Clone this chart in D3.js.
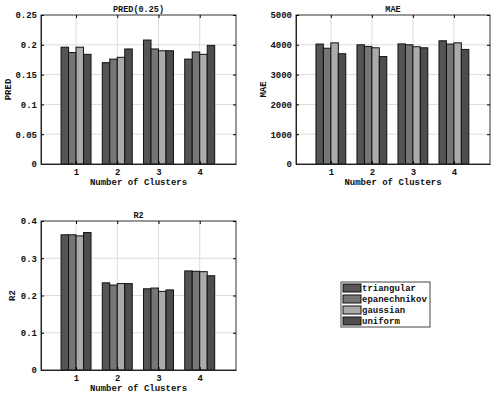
<!DOCTYPE html>
<html>
<head>
<meta charset="utf-8">
<script src="https://cdn.jsdelivr.net/npm/d3@7"></script>
<style>
  html, body { margin: 0; padding: 0; background: #fff; }
  svg text { font-family: "Liberation Mono", "DejaVu Sans Mono", monospace; font-weight: bold; fill: #111; }
</style>
</head>
<body>
<svg id="chart" width="491" height="394"></svg>
<script>
// Cluster counts on the x axis
const clusters = [1, 2, 3, 4];
// Kernel names (series)
const kernels = ["triangular", "epanechnikov", "gaussian", "uniform"];
const kernelColors = ["#555555", "#767676", "#ababab", "#4d4d4d"];

// PRED(0.25) per kernel, one value per cluster count
const predTriangular   = [0.196, 0.170, 0.208, 0.176];
const predEpanechnikov = [0.187, 0.176, 0.193, 0.188];
const predGaussian     = [0.196, 0.179, 0.190, 0.184];
const predUniform      = [0.184, 0.193, 0.190, 0.199];

// MAE per kernel
const maeTriangular   = [4025, 4000, 4030, 4135];
const maeEpanechnikov = [3885, 3945, 4000, 4025];
const maeGaussian     = [4065, 3900, 3935, 4065];
const maeUniform      = [3700, 3605, 3900, 3845];

// R2 per kernel
const r2Triangular   = [0.363, 0.234, 0.218, 0.266];
const r2Epanechnikov = [0.363, 0.228, 0.220, 0.265];
const r2Gaussian     = [0.360, 0.232, 0.211, 0.264];
const r2Uniform      = [0.369, 0.232, 0.215, 0.253];

// Y tick labels
const predTicks = [0, 0.05, 0.1, 0.15, 0.2, 0.25];
const predTickLabels = ["0", "0.05", "0.1", "0.15", "0.2", "0.25"];
const maeTicks = [0, 1000, 2000, 3000, 4000, 5000];
const maeTickLabels = ["0", "1000", "2000", "3000", "4000", "5000"];
const r2Ticks = [0, 0.1, 0.2, 0.3, 0.4];
const r2TickLabels = ["0", "0.1", "0.2", "0.3", "0.4"];

const svg = d3.select("#chart");

function panel(opt) {
  const { x0, x1, y0, y1, title, ylabel, series, yMax, ticks, tickLabels } = opt;
  const g = svg.append("g");
  const x = d3.scaleLinear().domain([0.15, 4.88]).range([x0, x1]);
  const y = d3.scaleLinear().domain([0, yMax]).range([y1, y0]);

  // grid
  g.selectAll(".gy").data(ticks.slice(1, -1)).join("line")
    .attr("x1", x0).attr("x2", x1)
    .attr("y1", d => y(d)).attr("y2", d => y(d))
    .attr("stroke", "#dcdcdc").attr("stroke-width", 1);
  g.selectAll(".gx").data(clusters).join("line")
    .attr("x1", d => x(d)).attr("x2", d => x(d))
    .attr("y1", y0).attr("y2", y1)
    .attr("stroke", "#dcdcdc").attr("stroke-width", 1);

  // bars
  const groupW = 0.727;
  const bw = groupW / kernels.length;
  series.forEach((vals, si) => {
    g.selectAll(".b" + si).data(vals).join("rect")
      .attr("x", (d, i) => x(clusters[i] + (si - 1.5) * bw - bw / 2))
      .attr("width", x(bw) - x(0))
      .attr("y", d => y(d))
      .attr("height", d => y(0) - y(d))
      .attr("fill", kernelColors[si])
      .attr("stroke", "#111")
      .attr("stroke-width", 1);
  });

  // frame
  g.append("rect").attr("x", x0).attr("y", y0)
    .attr("width", x1 - x0).attr("height", y1 - y0)
    .attr("fill", "none").attr("stroke", "#333").attr("stroke-width", 1);

  // y axis (inward ticks both sides)
  const ya = d3.axisLeft(y).tickValues(ticks)
    .tickFormat((d, i) => tickLabels[i]).tickSizeInner(-3).tickSizeOuter(0).tickPadding(4);
  const yg = g.append("g").attr("transform", `translate(${x0},0)`).call(ya);
  yg.select(".domain").attr("stroke", "#222");
  yg.selectAll("text").attr("font-size", 9);
  const yr = d3.axisRight(y).tickValues(ticks).tickFormat("").tickSizeInner(-3).tickSizeOuter(0);
  const yrg = g.append("g").attr("transform", `translate(${x1},0)`).call(yr);
  yrg.select(".domain").remove();

  // x axis
  const xa = d3.axisBottom(x).tickValues(clusters).tickFormat(d3.format("d"))
    .tickSizeInner(-3).tickSizeOuter(0).tickPadding(5);
  const xg = g.append("g").attr("transform", `translate(0,${y1})`).call(xa);
  xg.select(".domain").attr("stroke", "#222");
  xg.selectAll("text").attr("font-size", 9);
  const xt = d3.axisTop(x).tickValues(clusters).tickFormat("").tickSizeInner(-3).tickSizeOuter(0);
  const xtg = g.append("g").attr("transform", `translate(0,${y0})`).call(xt);
  xtg.select(".domain").remove();

  // labels
  g.append("text").attr("x", (x0 + x1) / 2).attr("y", y0 - 3)
    .attr("text-anchor", "middle").attr("font-size", 8.5).text(title);
  g.append("text").attr("x", (x0 + x1) / 2).attr("y", y1 + 21)
    .attr("text-anchor", "middle").attr("font-size", 9).text("Number of Clusters");
  g.append("text")
    .attr("transform", `translate(${opt.ylx},${(y0 + y1) / 2}) rotate(-90)`)
    .attr("text-anchor", "middle").attr("font-size", 9).text(ylabel);
}

panel({ x0: 41, x1: 236, y0: 15, y1: 164, title: "PRED(0.25)", ylabel: "PRED", ylx: 11,
  series: [predTriangular, predEpanechnikov, predGaussian, predUniform],
  yMax: 0.25, ticks: predTicks, tickLabels: predTickLabels });

panel({ x0: 296, x1: 490, y0: 15, y1: 164, title: "MAE", ylabel: "MAE", ylx: 266,
  series: [maeTriangular, maeEpanechnikov, maeGaussian, maeUniform],
  yMax: 5000, ticks: maeTicks, tickLabels: maeTickLabels });

panel({ x0: 41, x1: 236, y0: 221, y1: 370, title: "R2", ylabel: "R2", ylx: 15,
  series: [r2Triangular, r2Epanechnikov, r2Gaussian, r2Uniform],
  yMax: 0.4, ticks: r2Ticks, tickLabels: r2TickLabels });

// legend
const lg = svg.append("g");
lg.append("rect").attr("x", 341).attr("y", 282).attr("width", 89).attr("height", 45)
  .attr("fill", "#fff").attr("stroke", "#444").attr("stroke-width", 1);
kernels.forEach((k, i) => {
  const yy = 284 + i * 11;
  lg.append("rect").attr("x", 343).attr("y", yy).attr("width", 18).attr("height", 8)
    .attr("fill", kernelColors[i]).attr("stroke", "#111").attr("stroke-width", 1);
  lg.append("text").attr("x", 362).attr("y", yy + 7).attr("font-size", 9).text(k);
});
</script>
</body>
</html>
